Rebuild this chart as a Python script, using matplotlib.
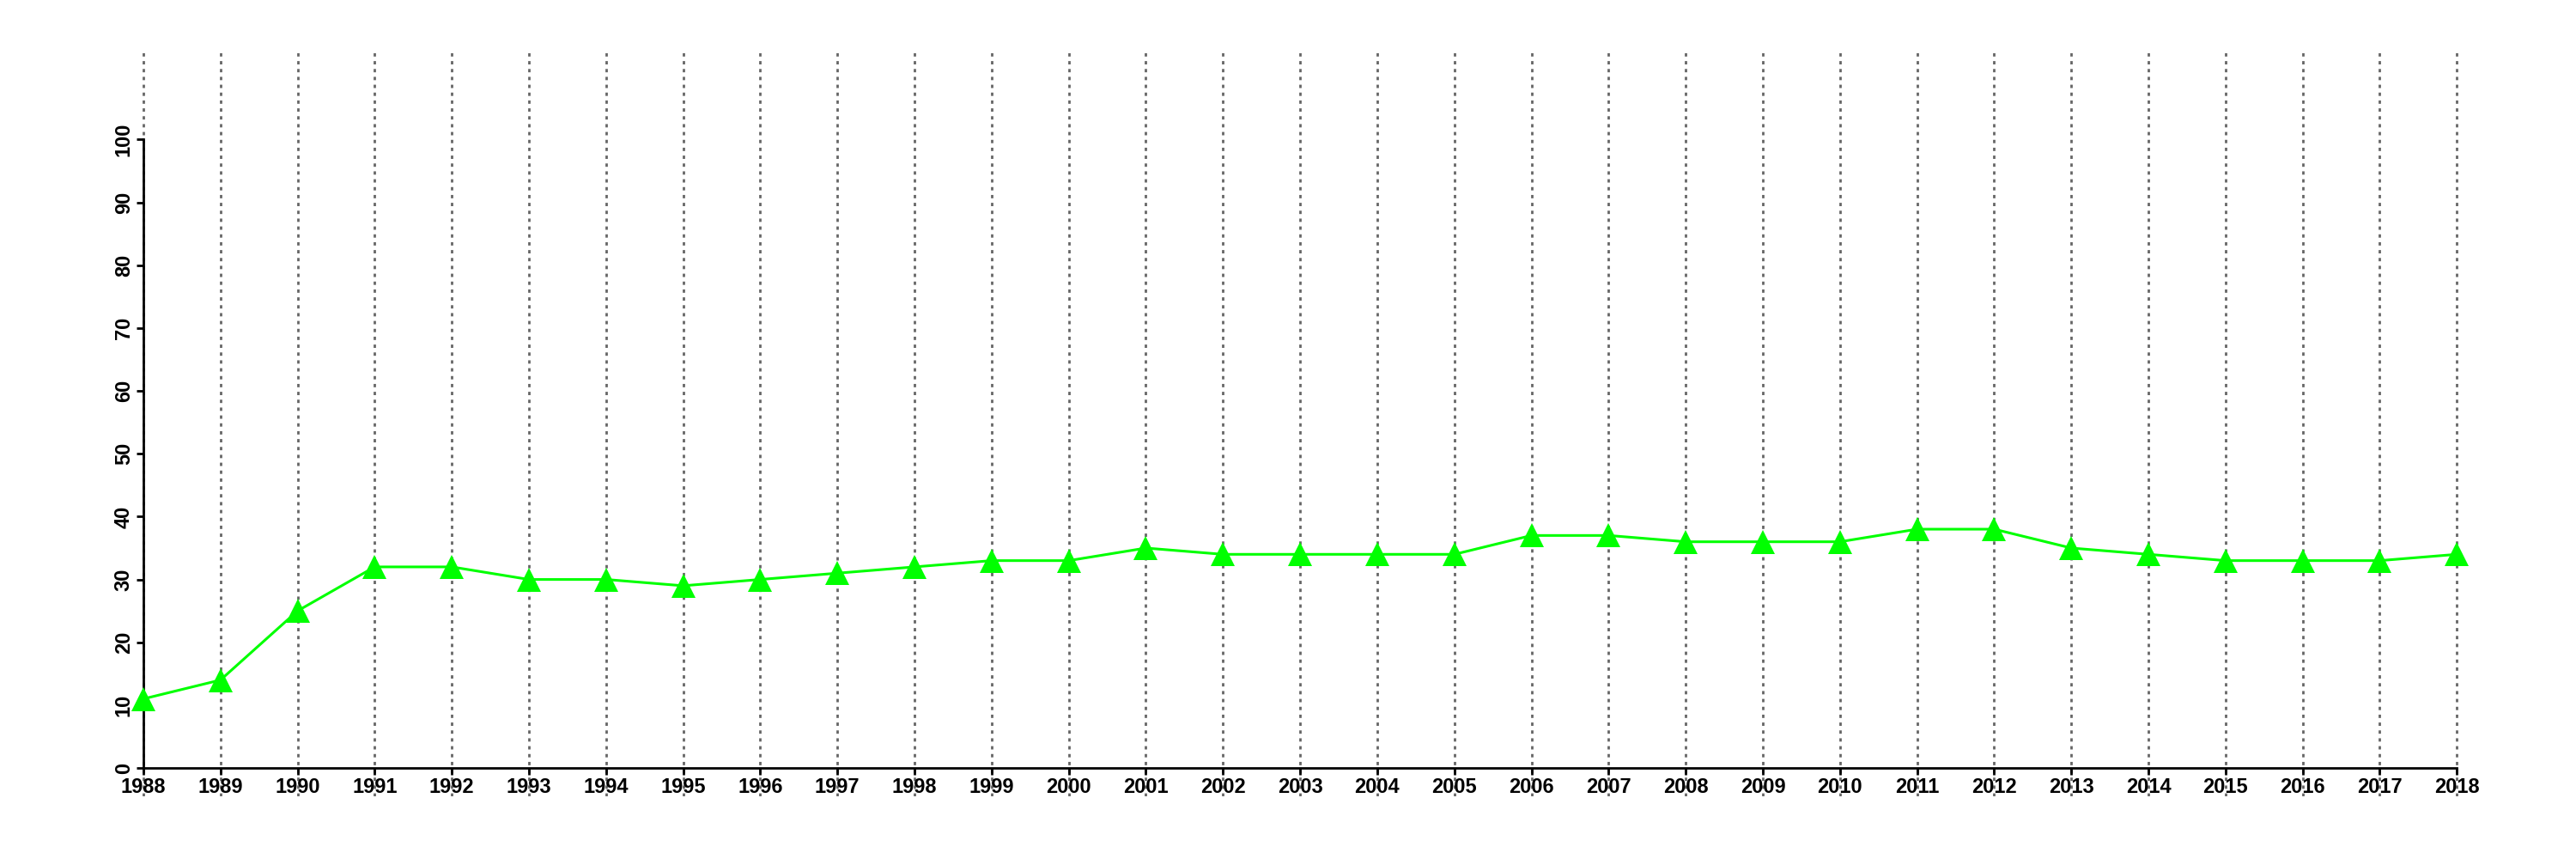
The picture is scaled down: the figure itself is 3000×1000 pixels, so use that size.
import matplotlib
matplotlib.use("Agg")
import matplotlib.pyplot as plt

# yearly values
years = list(range(1988, 2019))
values = [11, 14, 25, 32, 32, 30, 30, 29, 30, 31, 32, 33, 33, 35, 34, 34,
          34, 34, 37, 37, 36, 36, 36, 38, 38, 35, 34, 33, 33, 33, 34]
y_ticks = list(range(0, 101, 10))

plt.rcParams['font.family'] = ['Liberation Sans', 'DejaVu Sans']
plt.rcParams['font.weight'] = 'bold'

fig = plt.figure(figsize=(30, 10), dpi=100)
ax = fig.add_axes([0.0257, 0.073, 0.958, 0.867])

# dotted vertical guides at every year
for yr in years:
    ax.axvline(yr, color='#666666', lw=2.0, linestyle=(0, (1.4, 1.9)), zorder=1)

ax.plot(years, values, color='#00ff00', lw=2.2, marker='^', markersize=20,
        markeredgewidth=0, zorder=3)

ax.set_xlim(1987, 2019)
ax.set_ylim(-4.5, 114)

for s in ['top', 'right']:
    ax.spines[s].set_visible(False)
ax.spines['bottom'].set_position(('data', 0))
ax.spines['bottom'].set_bounds(1988, 2018)
ax.spines['left'].set_position(('data', 1988))
ax.spines['left'].set_bounds(0, 100)
for s in ['bottom', 'left']:
    ax.spines[s].set_linewidth(2)

ax.set_xticks(years)
ax.set_xticklabels([str(y) for y in years], fontsize=17, fontweight='bold')
ax.set_yticks(y_ticks)
ax.set_yticklabels([str(v) for v in y_ticks], fontsize=17, fontweight='bold',
                   rotation=90, va='center')
ax.tick_params(axis='both', length=6, width=2, pad=2)

fig.savefig('out.png', dpi=100)
